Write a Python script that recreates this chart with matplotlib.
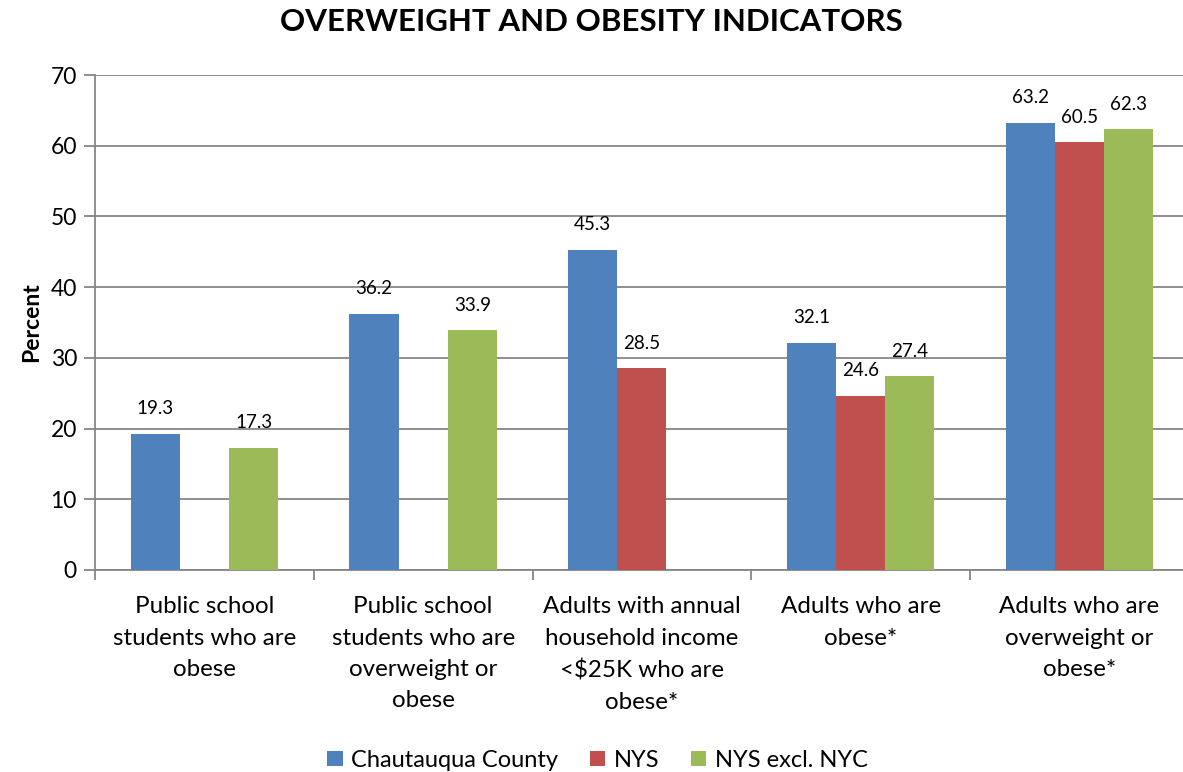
import numpy as np
import matplotlib.pyplot as plt

plt.rcParams['font.family'] = ['Lato', 'DejaVu Sans']

# Data
categories = [
    "Public school\nstudents who are\nobese",
    "Public school\nstudents who are\noverweight or\nobese",
    "Adults with annual\nhousehold income\n<$25K who are\nobese*",
    "Adults who are\nobese*",
    "Adults who are\noverweight or\nobese*",
]
series_names = ["Chautauqua County", "NYS", "NYS excl. NYC"]
chautauqua = [19.3, 36.2, 45.3, 32.1, 63.2]
nys = [np.nan, np.nan, 28.5, 24.6, 60.5]
nys_excl = [17.3, 33.9, np.nan, 27.4, 62.3]
colors = ["#4F81BD", "#C0504D", "#9BBB59"]

fig = plt.figure(figsize=(11.83, 7.72), dpi=100)
ax = fig.add_axes([95 / 1183, 1 - 570 / 772, 1093.75 / 1183, 495 / 772])

x = np.arange(len(categories))
w = 0.225
for k, (vals, name, c) in enumerate(zip([chautauqua, nys, nys_excl], series_names, colors)):
    pos = x + (k - 1) * w
    ax.bar(pos, vals, width=w, color=c, label=name, zorder=3)
    for p, v in zip(pos, vals):
        if not np.isnan(v):
            ax.annotate(f"{v:.1f}", (p, v), xytext=(0, 12), textcoords="offset points",
                        ha="center", va="bottom", fontsize=13.5)

ax.set_xlim(-0.5, len(categories) - 0.5)
ax.set_ylim(0, 70)
ax.set_yticks(range(0, 71, 10))
ax.yaxis.grid(True, color="#868686", linewidth=1.3, zorder=0)
ax.tick_params(axis="y", labelsize=16.5, length=8, width=1.3, color="#868686", pad=5)

ax.set_xticks(x)
ax.set_xticklabels(categories, fontsize=17.4, linespacing=1.6)
ax.set_xticks(np.arange(-0.5, len(categories) + 0.5, 1), minor=True)
ax.tick_params(axis="x", which="major", length=0, pad=19)
ax.tick_params(axis="x", which="minor", length=7, width=1.3, color="#868686")

for s in ["top", "right"]:
    ax.spines[s].set_visible(False)
for s in ["left", "bottom"]:
    ax.spines[s].set_color("#868686")
    ax.spines[s].set_linewidth(1.3)

ax.set_ylabel("Percent", fontsize=16.5, fontweight="bold", labelpad=6)

fig.suptitle("OVERWEIGHT AND OBESITY INDICATORS", fontsize=22.5, fontweight="bold",
             y=0.989, x=0.5)

fig.legend(loc="lower center", bbox_to_anchor=(0.505, -0.026), ncol=3, frameon=False,
           fontsize=17, handlelength=0.65, handleheight=0.65, handletextpad=0.35,
           columnspacing=1.35)

fig.savefig("out.png", dpi=100)
